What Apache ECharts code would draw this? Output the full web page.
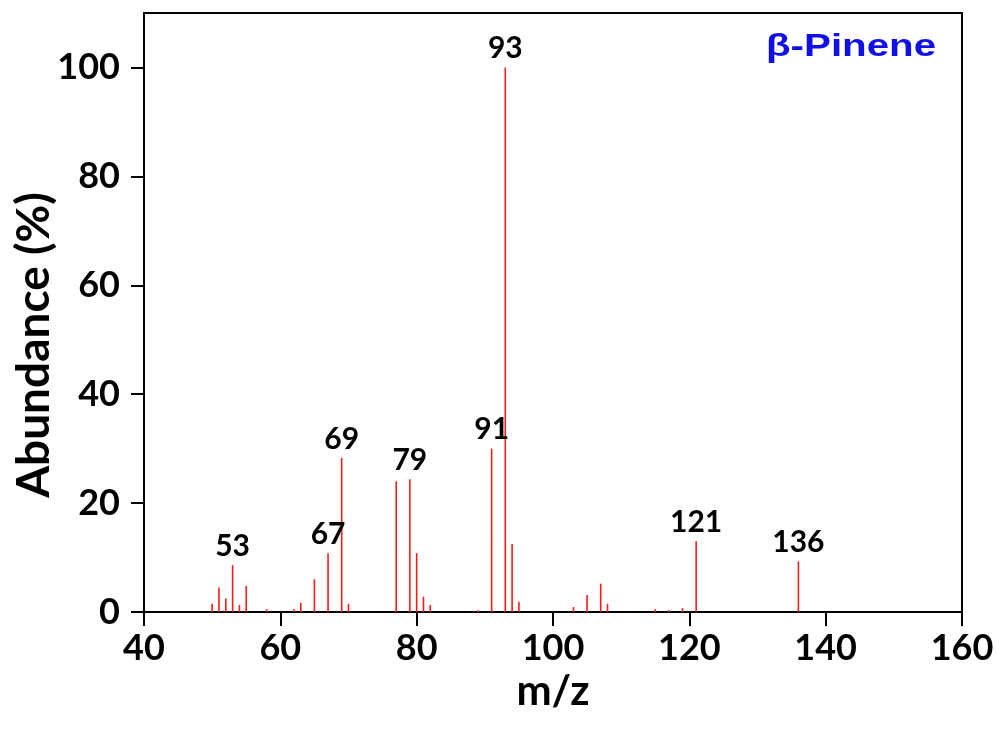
<!DOCTYPE html>
<html>
<head>
<meta charset="utf-8">
<script src="https://cdn.jsdelivr.net/npm/echarts@6/dist/echarts.min.js"></script>
<style>
  html, body { margin: 0; padding: 0; background: #fff; }
  #chart { width: 997px; height: 729px; }
</style>
</head>
<body>
<div id="chart"></div>
<script>
// Mass spectrum of beta-pinene (EI), relative abundance vs m/z
const mzValues = [50, 51, 52, 53, 54, 55, 58, 62, 63, 65, 67, 69, 70,
                  77, 79, 80, 81, 82, 89, 91, 93, 94, 95,
                  103, 105, 107, 108, 115, 117, 119, 121, 136];
const abundance = [1.5, 4.5, 2.5, 8.6, 1.3, 4.8, 0.5, 0.5, 1.7, 6.0, 10.8, 28.3, 1.5,
                   24.0, 24.4, 10.8, 2.8, 1.3, 0.3, 30.0, 100, 12.5, 1.9,
                   0.9, 3.1, 5.2, 1.5, 0.5, 0.3, 0.7, 13.0, 9.3];
const labelledPeaks = [53, 67, 69, 79, 91, 93, 121, 136];
const xTicks = [40, 60, 80, 100, 120, 140, 160];
const yTicks = [0, 20, 40, 60, 80, 100];
const compoundName = 'β-Pinene';
const yTitle = 'Abundance (%)';

const FONT = 'Lato';

const barData = mzValues.map((mz, i) => {
  const item = { value: [mz, abundance[i]] };
  if (labelledPeaks.includes(mz)) {
    item.label = { show: true };
  }
  return item;
});

const chart = echarts.init(document.getElementById('chart'), null, { renderer: 'canvas' });

chart.setOption({
  backgroundColor: '#ffffff',
  animation: false,
  grid: {
    left: 144, right: 35, top: 13, bottom: 117,
    outerBoundsMode: 'none',
    containLabel: false,
    show: true, borderColor: '#000', borderWidth: 2, backgroundColor: 'transparent'
  },
  xAxis: {
    type: 'value',
    min: xTicks[0],
    max: xTicks[xTicks.length - 1],
    interval: 20,
    name: 'm/z',
    nameLocation: 'middle',
    nameGap: 54,
    nameTextStyle: { fontFamily: FONT, fontSize: 42, color: '#000', fontWeight: 'bold' },
    axisLine: { show: true, onZero: false, lineStyle: { color: '#000', width: 2 } },
    axisTick: { show: true, inside: false, length: 14, lineStyle: { color: '#000', width: 2 } },
    axisLabel: {
      fontFamily: FONT, fontSize: 36, fontWeight: 'bold', color: '#000', margin: 18,
      formatter: v => (xTicks.includes(v) ? String(v) : '')
    },
    splitLine: { show: false }
  },
  yAxis: {
    type: 'value',
    min: 0,
    max: 110,
    interval: 20,
    axisLine: { show: true, lineStyle: { color: '#000', width: 2 } },
    axisTick: { show: true, inside: false, length: 13, lineStyle: { color: '#000', width: 2 } },
    axisLabel: {
      fontFamily: FONT, fontSize: 36, fontWeight: 'bold', color: '#000', margin: 24,
      showMaxLabel: false,
      formatter: v => (yTicks.includes(v) ? String(v) : '')
    },
    splitLine: { show: false }
  },
  series: [{
    type: 'bar',
    data: barData,
    barWidth: 1.6,
    itemStyle: { color: '#ff1a1a' },
    label: {
      show: false,
      position: 'top',
      distance: 4,
      fontFamily: FONT,
      fontSize: 30,
      fontWeight: 'bold',
      color: '#000',
      formatter: p => String(p.value[0])
    }
  }],
  graphic: [{
    // vertical axis title, sitting slightly below the plot centre
    type: 'text',
    x: 34,
    y: 345,
    rotation: Math.PI / 2,
    style: {
      text: yTitle,
      fontFamily: FONT,
      fontWeight: 'bold',
      fontSize: 46,
      fill: '#000',
      align: 'center',
      verticalAlign: 'middle'
    }
  }, {
    type: 'text',
    left: 766,
    top: 32,
    scaleX: 1.3,
    style: {
      text: compoundName,
      fontFamily: 'Liberation Sans',
      fontWeight: 'bold',
      fontSize: 31,
      fill: '#1010e6'
    }
  }]
});
</script>
</body>
</html>
